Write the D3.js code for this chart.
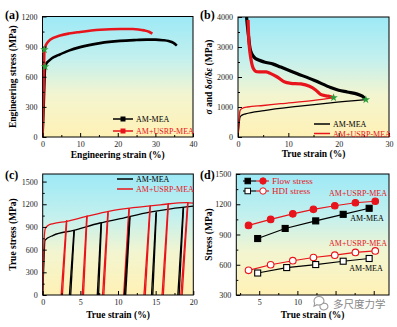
<!DOCTYPE html>
<html><head><meta charset="utf-8">
<script src="https://cdn.jsdelivr.net/npm/d3@7"></script>
<style>
body{margin:0;background:#fff;}
svg{display:block;}
</style></head>
<body><svg id="c" width="397" height="327"></svg>
<script>
// ---------- DATA ----------
// (a) engineering stress-strain [strain %, stress MPa]
const engAM = [[0,0],[0.35,350],[0.7,700],[1.0,730],[1.6,755],[2.5,785],[4.2,815],[7,860],[10,895],[15.3,935],[20.6,957],[25,966],[27.7,970],[30,970],[32,964],[33.5,955],[34.8,937],[35.7,910]];
const engUSRP = [[0,0],[0.3,450],[0.5,850],[0.8,905],[1.2,935],[2,968],[4.7,1010],[7,1030],[10,1046],[15.3,1068],[20.6,1076],[24,1075],[25.5,1071],[27,1062],[28.3,1048],[29.2,1030]];
// (b) true stress and strain-hardening rate
const trueAM = [[0,0],[0.2,400],[0.4,660],[0.8,730],[1.5,770],[5.2,880],[11.8,1020],[18.4,1140],[25.4,1244]];
const trueUSRP = [[0,0],[0.2,550],[0.4,880],[0.8,950],[1.9,1000],[5,1050],[8.5,1110],[15.1,1220],[19,1311]];
const hardAM = [[1.7,4000],[2.1,3350],[2.5,2880],[3,2700],[3.5,2610],[5.2,2500],[7,2430],[8.5,2330],[11.8,2110],[15.1,1890],[18.4,1650],[20,1560],[21.7,1500],[23.7,1430],[24.7,1360],[25.4,1244]];
const hardUSRP = [[2.0,3900],[2.2,3100],[2.5,2670],[3.0,2300],[3.5,2190],[4.5,2170],[5.6,2170],[6.4,2120],[7.8,2000],[9.3,1830],[10.5,1790],[12.5,1770],[14.2,1690],[15.5,1560],[16.4,1420],[17.5,1370],[18.3,1350],[19,1311]];
// (c) loading-unloading-reloading true stress-strain
const cycAM = [[0,0],[0.15,400],[0.3,724],[1.4,789],[4.1,855],[7.6,952],[10.3,1009],[14.2,1096],[17,1140],[20,1175]];
const cycUSRP = [[0,0],[0.1,400],[0.2,750],[0.35,880],[0.8,925],[1.4,945],[3.2,975],[5.8,1039],[8.9,1110],[12,1154],[15.6,1193],[19.1,1222],[20,1215]];
const loopAMTop = [4.2,7.8,11.6,15.1,18.7];
const loopAMTopStress = [860,960,1035,1100,1160];
const loopAMBottom = [3.6,7.3,10.9,14.5,18.0];
const loopUSRPTop = [3.2,5.9,8.7,11.5,14.3,16.7,19.3];
const loopUSRPTopStress = [990,1050,1105,1150,1185,1215,1230];
const loopUSRPBottom = [2.5,5.3,8.0,10.8,13.5,15.9,18.4];
// (d) flow stress and HDI stress
const flowUSRPx = [3.6,6.5,9.4,12.1,14.9,17.6,20.2];
const flowUSRP = [990,1050,1105,1150,1185,1215,1230];
const flowAMx = [4.8,8.4,12.4,16,19.4];
const flowAM = [860,960,1035,1100,1160];
const hdiUSRPx = [3.6,6.5,9.4,12.1,14.9,17.6,20.2];
const hdiUSRP = [545,600,640,672,695,722,737];
const hdiAMx = [4.8,8.6,12.4,16,19.4];
const hdiAM = [518,572,602,635,662];
// ticks
const ticksA_x=[0,10,20,30,40], ticksA_y=[0,300,600,900,1200];
const ticksB_x=[0,10,20,30], ticksB_y=[0,1000,2000,3000,4000];
const ticksC_x=[0,5,10,15,20], ticksC_y=[0,300,600,900,1200,1500];
const ticksD_x=[5,10,15,20], ticksD_xLabels=["5","10","",""], ticksD_y=[300,600,900,1200,1500];
const seriesNames=["AM-MEA","AM+USRP-MEA"];
const legendD=["Flow stress","HDI stress"];

// ---------- DRAW ----------
const SERIF='"Liberation Serif","Times New Roman",serif';
const RED="#e8141b", BLK="#000";
const svg=d3.select("#c");
const defs=svg.append("defs");
const grad=defs.append("linearGradient").attr("id","bg").attr("x1",0).attr("y1",0).attr("x2",0).attr("y2",1);
grad.append("stop").attr("offset","0%").attr("stop-color","#9de9f6");
grad.append("stop").attr("offset","35%").attr("stop-color","#c3f0ee");
grad.append("stop").attr("offset","65%").attr("stop-color","#f3f5d0");
grad.append("stop").attr("offset","100%").attr("stop-color","#fff1b5");

let clipId=0;
function panel(p){
  const x=d3.scaleLinear().domain(p.xd).range([p.l,p.r]);
  const y=d3.scaleLinear().domain(p.yd).range([p.b,p.t]);
  svg.append("rect").attr("x",p.l).attr("y",p.t).attr("width",p.r-p.l).attr("height",p.b-p.t).attr("fill","url(#bg)");
  const id="cl"+(clipId++);
  defs.append("clipPath").attr("id",id).append("rect").attr("x",p.l).attr("y",p.t).attr("width",p.r-p.l).attr("height",p.b-p.t);
  const g=svg.append("g").attr("clip-path",`url(#${id})`);
  const xf=p.xlab?((d,i)=>p.xlab[i]):d3.format("d");
  const ax=svg.append("g").attr("transform",`translate(0,${p.b})`).call(d3.axisBottom(x).tickValues(p.xt).tickSize(-4).tickPadding(4).tickFormat(xf));
  const axm=svg.append("g").attr("transform",`translate(0,${p.b})`).call(d3.axisBottom(x).tickValues(p.xm).tickSize(-2).tickFormat(""));
  const ay=svg.append("g").attr("transform",`translate(${p.l},0)`).call(d3.axisLeft(y).tickValues(p.yt).tickSize(-4).tickPadding(5).tickFormat(d3.format("d")));
  const aym=svg.append("g").attr("transform",`translate(${p.l},0)`).call(d3.axisLeft(y).tickValues(p.ym).tickSize(-2).tickFormat(""));
  [ax,axm,ay,aym].forEach(a=>{a.select(".domain").remove();a.selectAll("text").attr("font-size",8).attr("fill","#222");a.selectAll("line").attr("stroke","#000");});
  svg.append("rect").attr("x",p.l).attr("y",p.t).attr("width",p.r-p.l).attr("height",p.b-p.t).attr("fill","none").attr("stroke","#000").attr("stroke-width",1);
  svg.append("text").attr("x",(p.l+p.r)/2).attr("y",p.xly).attr("text-anchor","middle").attr("font-weight","bold").attr("font-size",9.5).text(p.xl);
  const yl=svg.append("text").attr("transform",`translate(${p.ylx},${(p.t+p.b)/2}) rotate(-90)`).attr("text-anchor","middle").attr("font-weight","bold").attr("font-size",9.5);
  if(p.ylNode) p.ylNode(yl); else yl.text(p.yl);
  svg.append("text").attr("x",p.lx).attr("y",p.ly).attr("font-weight","bold").attr("font-size",12).text(p.label);
  return {x,y,g};
}
function lineGen(P,curve){return d3.line().x(d=>P.x(d[0])).y(d=>P.y(d[1])).curve(curve||d3.curveMonotoneX);}
function legend(x0,y0,dy,len,items,marker){
  items.forEach((it,i)=>{
    const yy=y0+i*dy;
    svg.append("line").attr("x1",x0).attr("x2",x0+len).attr("y1",yy).attr("y2",yy).attr("stroke",it.c).attr("stroke-width",1.5);
    if(marker) svg.append("rect").attr("x",x0+len/2-2.5).attr("y",yy-2.5).attr("width",5).attr("height",5).attr("fill",it.c);
    svg.append("text").attr("x",x0+len+3).attr("y",yy+3).attr("font-size",8).attr("fill",it.c).text(it.t);
  });
}
function star(P,pt){
  svg.append("path").attr("d",d3.symbol(d3.symbolStar,22)()).attr("transform",`translate(${P.x(pt[0])},${P.y(pt[1])})`).attr("fill","#2a9d3a");
}

// (a)
const A=panel({l:42.5,r:193,t:16.5,b:137,xd:[0,40],yd:[0,1200],xt:ticksA_x,yt:ticksA_y,
  xm:d3.range(5,40,10),ym:d3.range(150,1200,300),xl:"Engineering strain (%)",xly:158,yl:"Engineering stress (MPa)",ylx:16,label:"(a)",lx:5,ly:19});
A.g.append("path").attr("d",lineGen(A)(engAM)).attr("fill","none").attr("stroke",BLK).attr("stroke-width",2.6);
A.g.append("path").attr("d",lineGen(A)(engUSRP)).attr("fill","none").attr("stroke",RED).attr("stroke-width",2.6);
star(A,[0.7,700]); star(A,[0.5,870]);
legend(113,119,12,20,[{t:seriesNames[0],c:BLK},{t:seriesNames[1],c:RED}],true);

// (b)
const B=panel({l:238,r:389,t:17,b:137,xd:[0,30],yd:[0,4000],xt:ticksB_x,yt:ticksB_y,
  xm:d3.range(5,30,10),ym:d3.range(500,4000,1000),xl:"True strain (%)",xly:157,ylx:212,label:"(b)",lx:200,ly:19,
  ylNode:t=>{t.append("tspan").attr("font-style","italic").text("σ");t.append("tspan").text(" and δ");t.append("tspan").attr("font-style","italic").text("σ");t.append("tspan").text("/δ");t.append("tspan").attr("font-style","italic").text("ε");t.append("tspan").text(" (MPa)");}});
B.g.append("path").attr("d",lineGen(B)(trueAM)).attr("fill","none").attr("stroke",BLK).attr("stroke-width",1.3);
B.g.append("path").attr("d",lineGen(B)(trueUSRP)).attr("fill","none").attr("stroke",RED).attr("stroke-width",1.3);
B.g.append("path").attr("d",lineGen(B,d3.curveCatmullRom)(hardAM)).attr("fill","none").attr("stroke",BLK).attr("stroke-width",3.2);
B.g.append("path").attr("d",lineGen(B,d3.curveCatmullRom)(hardUSRP)).attr("fill","none").attr("stroke",RED).attr("stroke-width",3.2);
star(B,trueAM[trueAM.length-1]); star(B,trueUSRP[trueUSRP.length-1]);
legend(314,124,9.5,16,[{t:seriesNames[0],c:BLK},{t:seriesNames[1],c:RED}],false);

// (c)
const C=panel({l:42.7,r:193.3,t:174,b:295,xd:[0,20],yd:[0,1600],xt:ticksC_x,yt:ticksC_y,
  xm:d3.range(2.5,20,5),ym:d3.range(150,1600,300),xl:"True strain (%)",xly:318,yl:"True stress (MPa)",ylx:16,label:"(c)",lx:5,ly:179});
C.g.append("path").attr("d",lineGen(C)(cycAM)).attr("fill","none").attr("stroke",BLK).attr("stroke-width",1.3);
C.g.append("path").attr("d",lineGen(C)(cycUSRP)).attr("fill","none").attr("stroke",RED).attr("stroke-width",1.3);
function loops(P,tops,ts,bots,col){
  tops.forEach((e,i)=>{
    const b=bots[i];
    const un=[[e,ts[i]],[b+0.12,0]];
    const re=[[b-0.05,0],[e-0.05,ts[i]*0.99]];
    [un,re].forEach(seg=>P.g.append("path").attr("d",d3.line().x(d=>P.x(d[0])).y(d=>P.y(d[1]))(seg)).attr("stroke",col).attr("stroke-width",1.3).attr("fill","none"));
  });
}
loops(C,loopUSRPTop,loopUSRPTopStress,loopUSRPBottom,RED);
loops(C,loopAMTop,loopAMTopStress,loopAMBottom,BLK);
legend(117,179,10,16,[{t:seriesNames[0],c:BLK},{t:seriesNames[1],c:RED}],false);

// (d)
const D=panel({l:236.3,r:389,t:174,b:295,xd:[2,22],yd:[300,1500],xt:ticksD_x,xlab:ticksD_xLabels,yt:ticksD_y,
  xm:d3.range(2.5,22,5),ym:d3.range(450,1500,300),xl:"True strain (%)",xly:318,yl:"Stress (MPa)",ylx:212,label:"(d)",lx:200,ly:179});
function series(P,xs,ys,col,shape,filled){
  const pts=xs.map((v,i)=>[v,ys[i]]);
  P.g.append("path").attr("d",d3.line().x(d=>P.x(d[0])).y(d=>P.y(d[1]))(pts)).attr("fill","none").attr("stroke",col).attr("stroke-width",1.2);
  pts.forEach(d=>{
    if(shape==="c") P.g.append("circle").attr("cx",P.x(d[0])).attr("cy",P.y(d[1])).attr("r",3.3).attr("fill",filled?col:"#fff").attr("stroke",col).attr("stroke-width",1.1);
    else P.g.append("rect").attr("x",P.x(d[0])-3).attr("y",P.y(d[1])-3).attr("width",6).attr("height",6).attr("fill",filled?col:"#fff").attr("stroke",col).attr("stroke-width",1.1);
  });
}
series(D,flowUSRPx,flowUSRP,RED,"c",true);
series(D,flowAMx,flowAM,BLK,"s",true);
series(D,hdiUSRPx,hdiUSRP,RED,"c",false);
series(D,hdiAMx,hdiAM,BLK,"s",false);
// legend (d)
legendD.forEach((t,i)=>{
  const yy=181+i*10, f=i===0;
  svg.append("line").attr("x1",243).attr("x2",256).attr("y1",yy).attr("y2",yy).attr("stroke",BLK).attr("stroke-width",1.1);
  svg.append("line").attr("x1",256).attr("x2",269).attr("y1",yy).attr("y2",yy).attr("stroke",RED).attr("stroke-width",1.1);
  svg.append("rect").attr("x",245).attr("y",yy-2.75).attr("width",5.5).attr("height",5.5).attr("fill",f?BLK:"#fff").attr("stroke",BLK);
  svg.append("circle").attr("cx",263).attr("cy",yy).attr("r",3.2).attr("fill",f?RED:"#fff").attr("stroke",RED);
  svg.append("text").attr("x",272).attr("y",yy+3.3).attr("font-size",9).attr("fill",RED).text(t);
});
[[seriesNames[1],RED,1312,358],[seriesNames[0],BLK,1064,367],[seriesNames[1],RED,816,358],[seriesNames[0],BLK,568,366]].forEach(([t,c,v,xc])=>{
  svg.append("text").attr("x",xc).attr("y",D.y(v)+3).attr("text-anchor","middle").attr("font-size",8).attr("fill",c).text(t);
});
// fonts for all chart text
svg.selectAll("text").style("font-family",SERIF);
// watermark
svg.append("path").attr("d","M314,301 a5,4.3 0 1,1 3,3.7 l-3,1.5 l0.6,-2.6 z").attr("fill","none").attr("stroke","#999").attr("stroke-width",1.1);
svg.append("path").attr("d","M320,306 a4,3.4 0 1,0 2.5,-2.6").attr("fill","none").attr("stroke","#999").attr("stroke-width",1.1);
svg.append("text").attr("x",333).attr("y",308).style("font-family","Noto Sans CJK SC").attr("font-size",10.5).attr("fill","#888").text("多尺度力学");
</script></body></html>
